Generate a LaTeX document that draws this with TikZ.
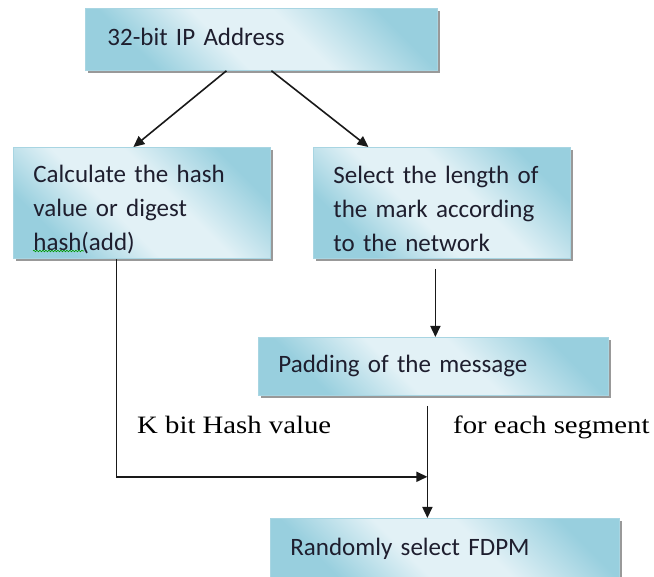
\documentclass[tikz,border=0pt]{standalone}
\usepackage{fontspec}
\setmainfont{Carlito}
\newfontfamily\labelserif[FakeStretch=1.15]{Liberation Serif}
\usetikzlibrary{arrows.meta,shadows,calc,decorations.pathmorphing}

\definecolor{aqualight}{HTML}{E2F1F6}
\definecolor{aquadark}{HTML}{98CFDE}
\definecolor{aquaedge}{HTML}{A8D5E2}
\definecolor{inkcol}{HTML}{1E1E2E}
\pgfdeclarehorizontalshading{aquaband}{100bp}{%
  color(0bp)=(aquadark); color(27bp)=(aquadark); color(43bp)=(aqualight);
  color(57bp)=(aqualight); color(75bp)=(aquadark); color(100bp)=(aquadark)}

\tikzset{
  flowbox/.style={draw=aquaedge, line width=0.8pt, shading=aquaband, shading angle=45,
    drop shadow={shadow xshift=3pt, shadow yshift=-3pt, fill=black!40, opacity=1},
    anchor=north west, inner xsep=20pt, inner ysep=0pt, align=left,
    font=\fontsize{25}{34}\selectfont, text=inkcol},
  link/.style={line width=1.6pt, draw=black!90,
    -{Triangle[length=11pt,width=10pt]}},
  sidelabel/.style={anchor=base west, inner sep=0pt,
    font=\labelserif\fontsize{25}{30}\selectfont, text=black},
}
% taller first line pushes a three-line block slightly down in its box
\newcommand{\firstlinepad}{\rule{0pt}{30pt}}

\begin{document}
\begin{tikzpicture}[x=1pt,y=-1pt]
\useasboundingbox (0,0) rectangle (654,577);

% process boxes
\node[flowbox, text width=308pt, minimum height=62pt, inner xsep=22pt] (addr) at (85,8)
  {\raisebox{6pt}{32-bit IP Address}};
\node[flowbox, text width=217pt, minimum height=111pt] (hash) at (13,147)
  {\firstlinepad Calculate the hash\\value or digest\\hash(add)};
\node[flowbox, text width=217pt, minimum height=111pt] (mark) at (313,147)
  {\firstlinepad Select the length of\\the mark according\\to the network};
\node[flowbox, text width=310pt, minimum height=58pt] (pad) at (258,337)
  {\raisebox{2pt}{Padding of the message}};
\node[flowbox, text width=309pt, minimum height=64pt] (fdpm) at (270,518)
  {\raisebox{8pt}{Randomly select FDPM}};

% spell-check squiggle under "hash"
\draw[green!60!black, line width=0.6pt,
  decorate, decoration={snake, amplitude=0.8pt, segment length=3pt}]
  (33,251) -- (84,251);

% connectors
\draw[link] ($(addr.south)+(-35,0)$) -- ($(hash.north)+(-8.5,0)$);
\draw[link] ($(addr.south)+(10,0)$) -- ($(mark.north)+(-73.5,0)$);

\coordinate (drop) at ($(mark.south)+(-6.5,10)$);
\draw[link] (drop) -- (drop |- pad.north);

\coordinate (down) at ($(pad.south)+(-6,10)$);
\draw[link] (down) -- (down |- fdpm.north);

\coordinate (join) at ($(down)+(0,71)$);
\draw[link] ($(hash.south)+(-25.5,0)$) |- (join);

% flow labels
\node[sidelabel] (kbits) at (137,434) {K bit Hash value};
\node[sidelabel] (segs) at (453,434) {for each segment};
\end{tikzpicture}
\end{document}
